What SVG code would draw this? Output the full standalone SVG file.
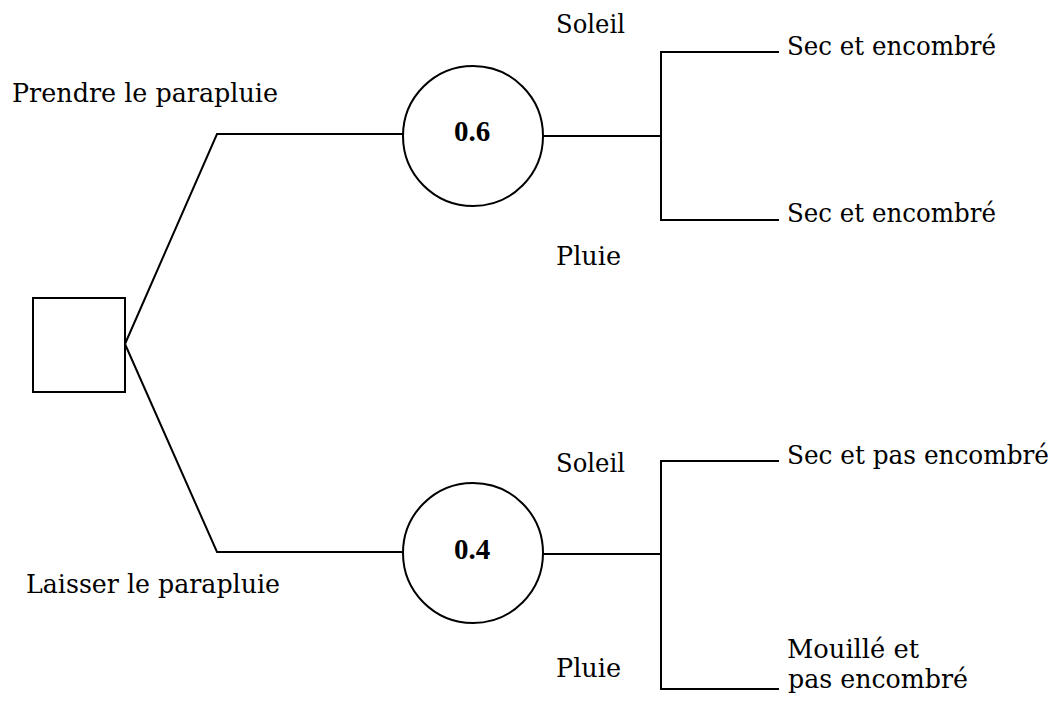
<svg xmlns="http://www.w3.org/2000/svg" width="1055" height="702" viewBox="0 0 1055 702">
<style>
.ln{fill:none;stroke:#000;stroke-width:2;}
.nd{fill:#fff;stroke:#000;stroke-width:2;}
text{font-family:"DejaVu Serif","Liberation Serif",serif;font-size:25.5px;fill:#000;}
.p{font-family:"Liberation Serif","Times New Roman",serif;font-weight:bold;font-size:29px;text-anchor:middle;}
</style>
<rect width="1055" height="702" fill="#fff"/>
<g id="connectors">
<polyline class="ln" points="125,344 217,134 403,134"/>
<polyline class="ln" points="125,344 217,552 403,552"/>
<line class="ln" x1="543" y1="136" x2="661" y2="136"/>
<polyline class="ln" points="779,52 661,52 661,220 779,220"/>
<line class="ln" x1="543" y1="554" x2="661" y2="554"/>
<polyline class="ln" points="779,461 661,461 661,689 779,689"/>
</g>
<g id="decision"><rect class="nd" x="33" y="298" width="92" height="94"/></g>
<g id="chance1"><circle class="nd" cx="473" cy="136" r="70"/><text class="p" x="472" y="141">0.6</text></g>
<g id="chance2"><circle class="nd" cx="473" cy="553" r="70"/><text class="p" x="472" y="559">0.4</text></g>
<g id="labels">
<text x="12" y="102" textLength="266" lengthAdjust="spacingAndGlyphs">Prendre le parapluie</text>
<text x="26" y="593" textLength="254" lengthAdjust="spacingAndGlyphs">Laisser le parapluie</text>
<text x="556" y="33" textLength="69" lengthAdjust="spacingAndGlyphs">Soleil</text>
<text x="556" y="265" textLength="65" lengthAdjust="spacingAndGlyphs">Pluie</text>
<text x="556" y="472" textLength="69" lengthAdjust="spacingAndGlyphs">Soleil</text>
<text x="556" y="677" textLength="65" lengthAdjust="spacingAndGlyphs">Pluie</text>
</g>
<g id="outcome1"><text x="787" y="55" textLength="209" lengthAdjust="spacingAndGlyphs">Sec et encombré</text></g>
<g id="outcome2"><text x="787" y="222" textLength="209" lengthAdjust="spacingAndGlyphs">Sec et encombré</text></g>
<g id="outcome3"><text x="787" y="464" textLength="262" lengthAdjust="spacingAndGlyphs">Sec et pas encombré</text></g>
<g id="outcome4"><text x="787" y="658" textLength="132" lengthAdjust="spacingAndGlyphs">Mouillé et</text><text x="788" y="688" textLength="180" lengthAdjust="spacingAndGlyphs">pas encombré</text></g>
</svg>
